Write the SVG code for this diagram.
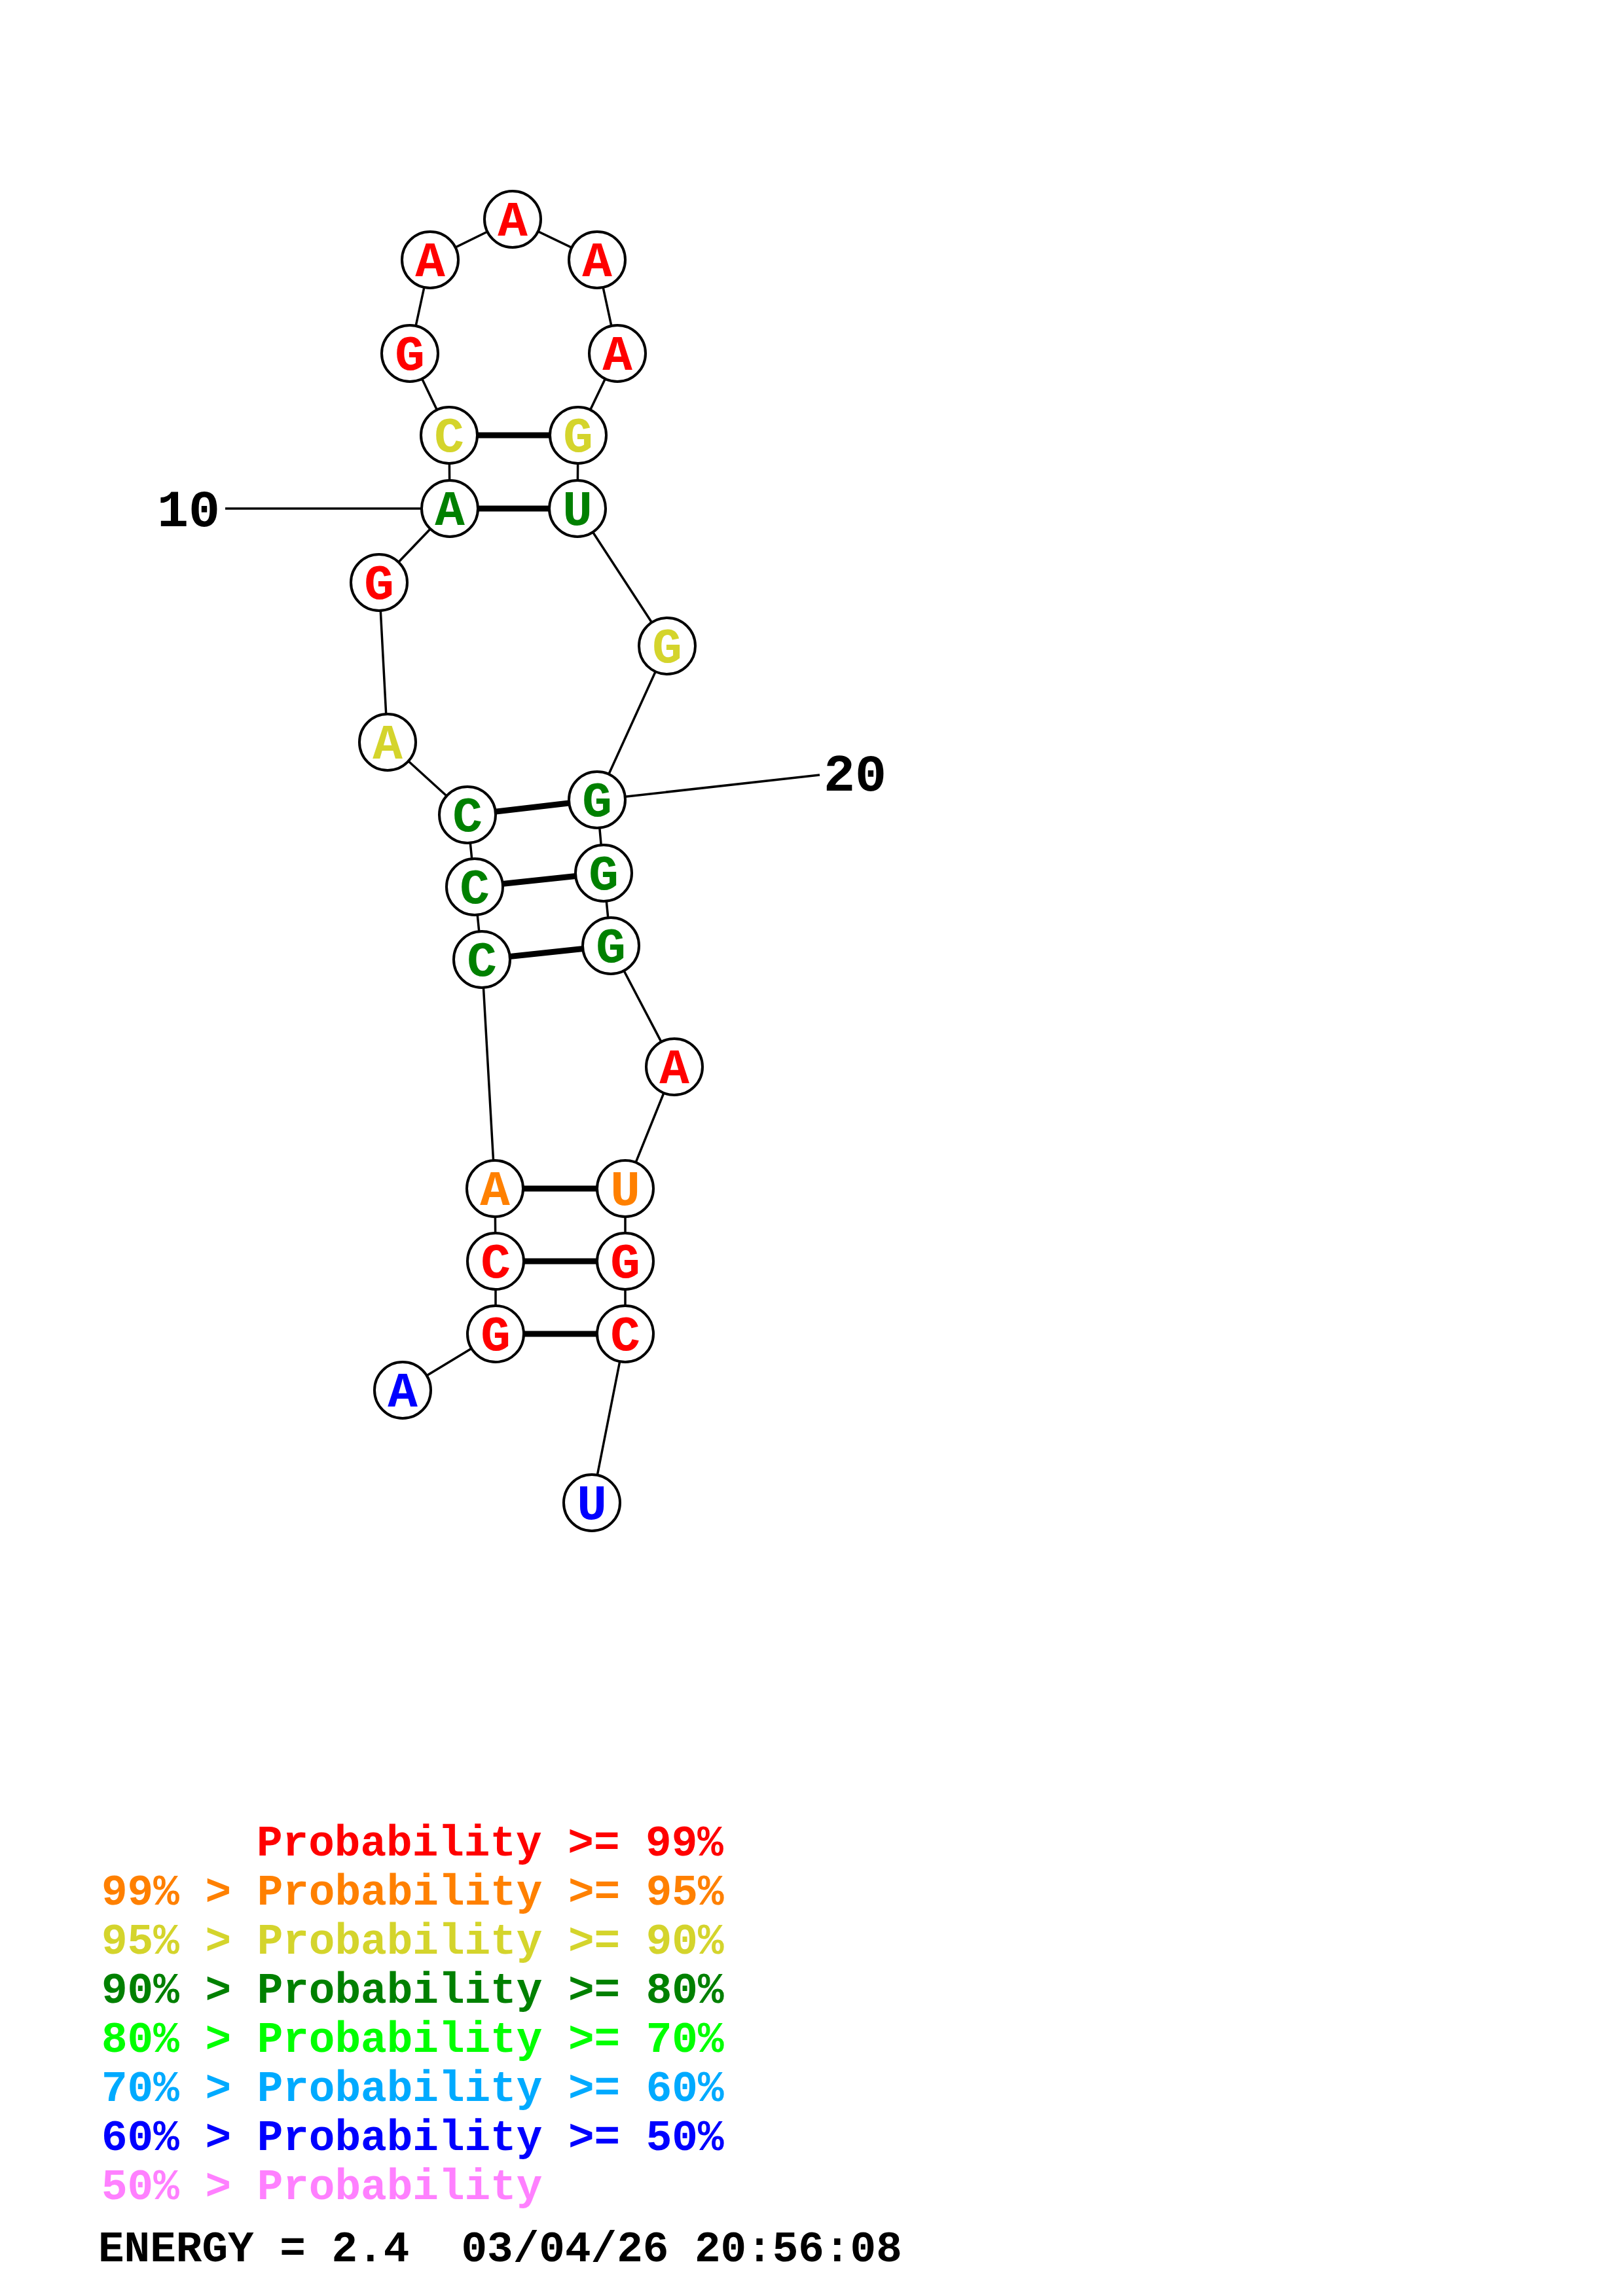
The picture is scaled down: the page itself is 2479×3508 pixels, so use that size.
<svg xmlns="http://www.w3.org/2000/svg" width="2479" height="3508" viewBox="0 0 2479 3508">
<style>
.bb{stroke:#000;stroke-width:3.5;fill:none}
.bp{stroke:#000;stroke-width:9;fill:none}
.nc{fill:#fff;stroke:#000;stroke-width:4}
.nt{font-family:"Liberation Mono",monospace;font-weight:bold;font-size:76px;text-anchor:middle}
.lb{font-family:"Liberation Mono",monospace;font-weight:bold;font-size:80px;fill:#000}
.lg{font-family:"Liberation Mono",monospace;font-weight:bold;font-size:66px}
.r{fill:#ff0000}.o{fill:#ff8000}.y{fill:#d4d42c}.g{fill:#008000}.lgr{fill:#00ff00}.sb{fill:#00aaff}.b{fill:#0000ff}.p{fill:#ff80ff}.k{fill:#000}
</style>
<rect width="2479" height="3508" fill="#fff"/>
<g id="connectors">
<polyline class="bb" points="615,2124 757,2038 757,1927 756,1816 736,1466 725,1355 714,1245 592,1134 579,890 687,777 686,665 626,540 657,397 783,335 912,397 943,540 883,665 882,777 1019,987 912,1222 922,1334 933,1445 1030,1630 955,1816 955,1927 955,2038 904,2296"/>
<line class="bp" x1="757" y1="2038" x2="955" y2="2038"/>
<line class="bp" x1="757" y1="1927" x2="955" y2="1927"/>
<line class="bp" x1="756" y1="1816" x2="955" y2="1816"/>
<line class="bp" x1="736" y1="1466" x2="933" y2="1445"/>
<line class="bp" x1="725" y1="1355" x2="922" y2="1334"/>
<line class="bp" x1="714" y1="1245" x2="912" y2="1222"/>
<line class="bp" x1="687" y1="777" x2="882" y2="777"/>
<line class="bp" x1="686" y1="665" x2="883" y2="665"/>
<line class="bb" x1="344" y1="777" x2="687" y2="777"/>
<line class="bb" x1="912" y1="1222" x2="1252" y2="1184"/>
</g>
<g id="n1"><circle class="nc" cx="615" cy="2124" r="43"/><text class="nt b" x="615" y="2149">A</text></g>
<g id="n2"><circle class="nc" cx="757" cy="2038" r="43"/><text class="nt r" x="757" y="2063">G</text></g>
<g id="n3"><circle class="nc" cx="757" cy="1927" r="43"/><text class="nt r" x="757" y="1952">C</text></g>
<g id="n4"><circle class="nc" cx="756" cy="1816" r="43"/><text class="nt o" x="756" y="1841">A</text></g>
<g id="n5"><circle class="nc" cx="736" cy="1466" r="43"/><text class="nt g" x="736" y="1491">C</text></g>
<g id="n6"><circle class="nc" cx="725" cy="1355" r="43"/><text class="nt g" x="725" y="1380">C</text></g>
<g id="n7"><circle class="nc" cx="714" cy="1245" r="43"/><text class="nt g" x="714" y="1270">C</text></g>
<g id="n8"><circle class="nc" cx="592" cy="1134" r="43"/><text class="nt y" x="592" y="1159">A</text></g>
<g id="n9"><circle class="nc" cx="579" cy="890" r="43"/><text class="nt r" x="579" y="915">G</text></g>
<g id="n10"><circle class="nc" cx="687" cy="777" r="43"/><text class="nt g" x="687" y="802">A</text></g>
<g id="n11"><circle class="nc" cx="686" cy="665" r="43"/><text class="nt y" x="686" y="690">C</text></g>
<g id="n12"><circle class="nc" cx="626" cy="540" r="43"/><text class="nt r" x="626" y="565">G</text></g>
<g id="n13"><circle class="nc" cx="657" cy="397" r="43"/><text class="nt r" x="657" y="422">A</text></g>
<g id="n14"><circle class="nc" cx="783" cy="335" r="43"/><text class="nt r" x="783" y="360">A</text></g>
<g id="n15"><circle class="nc" cx="912" cy="397" r="43"/><text class="nt r" x="912" y="422">A</text></g>
<g id="n16"><circle class="nc" cx="943" cy="540" r="43"/><text class="nt r" x="943" y="565">A</text></g>
<g id="n17"><circle class="nc" cx="883" cy="665" r="43"/><text class="nt y" x="883" y="690">G</text></g>
<g id="n18"><circle class="nc" cx="882" cy="777" r="43"/><text class="nt g" x="882" y="802">U</text></g>
<g id="n19"><circle class="nc" cx="1019" cy="987" r="43"/><text class="nt y" x="1019" y="1012">G</text></g>
<g id="n20"><circle class="nc" cx="912" cy="1222" r="43"/><text class="nt g" x="912" y="1247">G</text></g>
<g id="n21"><circle class="nc" cx="922" cy="1334" r="43"/><text class="nt g" x="922" y="1359">G</text></g>
<g id="n22"><circle class="nc" cx="933" cy="1445" r="43"/><text class="nt g" x="933" y="1470">G</text></g>
<g id="n23"><circle class="nc" cx="1030" cy="1630" r="43"/><text class="nt r" x="1030" y="1655">A</text></g>
<g id="n24"><circle class="nc" cx="955" cy="1816" r="43"/><text class="nt o" x="955" y="1841">U</text></g>
<g id="n25"><circle class="nc" cx="955" cy="1927" r="43"/><text class="nt r" x="955" y="1952">G</text></g>
<g id="n26"><circle class="nc" cx="955" cy="2038" r="43"/><text class="nt r" x="955" y="2063">C</text></g>
<g id="n27"><circle class="nc" cx="904" cy="2296" r="43"/><text class="nt b" x="904" y="2321">U</text></g>
<g id="labels">
<text class="lb" x="336" y="804" text-anchor="end">10</text>
<text class="lb" x="1258" y="1208">20</text>
</g>
<g id="legend">
<text class="lg r" x="392" y="2835">Probability &gt;= 99%</text>
<text class="lg o" x="155" y="2910">99% &gt; Probability &gt;= 95%</text>
<text class="lg y" x="155" y="2985">95% &gt; Probability &gt;= 90%</text>
<text class="lg g" x="155" y="3060">90% &gt; Probability &gt;= 80%</text>
<text class="lg lgr" x="155" y="3135">80% &gt; Probability &gt;= 70%</text>
<text class="lg sb" x="155" y="3210">70% &gt; Probability &gt;= 60%</text>
<text class="lg b" x="155" y="3285">60% &gt; Probability &gt;= 50%</text>
<text class="lg p" x="155" y="3360">50% &gt; Probability</text>
<text class="lg k" x="150" y="3455" xml:space="preserve">ENERGY = 2.4  03/04/26 20:56:08</text>
</g>
</svg>
